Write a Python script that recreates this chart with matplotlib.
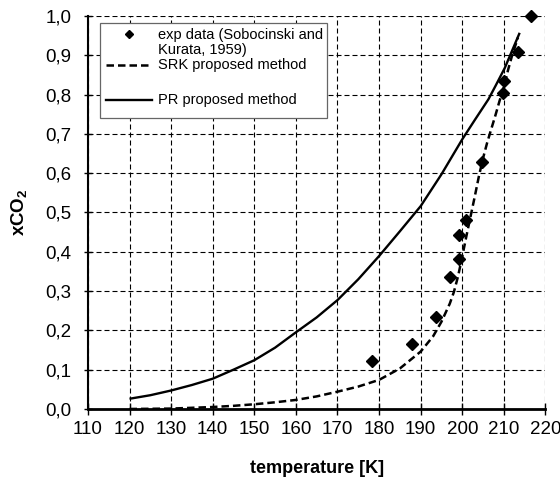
import matplotlib
matplotlib.use("Agg")
import matplotlib.pyplot as plt
from matplotlib.lines import Line2D
from matplotlib.patches import Rectangle

plt.rcParams['font.family'] = ['Liberation Sans', 'DejaVu Sans']
plt.rcParams['mathtext.fontset'] = 'custom'
plt.rcParams['mathtext.rm'] = 'Liberation Sans'
plt.rcParams['mathtext.bf'] = 'Liberation Sans:bold'

# experimental data (Sobocinski and Kurata, 1959)
T_exp = [178.2, 187.8, 193.8, 197.1, 199.2, 199.2, 200.9, 204.7, 209.8, 210.1, 213.3, 216.5]
x_exp = [0.122, 0.165, 0.235, 0.336, 0.382, 0.443, 0.480, 0.628, 0.803, 0.835, 0.909, 0.999]

# SRK proposed method
T_srk = [120, 125, 130, 135, 140, 145, 150, 155, 160, 165, 170, 175, 180, 185, 190,
         193, 195, 197, 198, 199, 200, 201, 202, 203, 204, 205, 206, 207, 208, 209,
         210, 211, 212, 213.4]
x_srk = [0.0, 0.0005, 0.001, 0.003, 0.005, 0.008, 0.012, 0.017, 0.023, 0.032, 0.044,
         0.057, 0.074, 0.103, 0.146, 0.185, 0.222, 0.268, 0.298, 0.338, 0.388, 0.440,
         0.490, 0.540, 0.592, 0.638, 0.678, 0.713, 0.748, 0.785, 0.818, 0.862, 0.900,
         0.945]

# PR proposed method
T_pr = [120, 125, 130, 135, 140, 145, 150, 155, 160, 165, 170, 175, 180, 185, 190,
        195, 200, 203, 206.3, 208, 210.2, 212, 213.8]
x_pr = [0.026, 0.035, 0.047, 0.061, 0.077, 0.100, 0.124, 0.156, 0.195, 0.233, 0.277,
        0.330, 0.389, 0.452, 0.516, 0.597, 0.686, 0.735, 0.788, 0.822, 0.867, 0.912,
        0.957]

x_ticks = [110, 120, 130, 140, 150, 160, 170, 180, 190, 200, 210, 220]
y_ticks = [0.0, 0.1, 0.2, 0.3, 0.4, 0.5, 0.6, 0.7, 0.8, 0.9, 1.0]
y_ticklabels = [f"{v:.1f}".replace('.', ',') for v in y_ticks]

fig = plt.figure(figsize=(5.6, 4.82), dpi=100)
ax = fig.add_axes([0.157, 0.1515, 0.817, 0.8155])

ax.plot(T_pr, x_pr, color='black', lw=1.7, solid_capstyle='butt')
ax.plot(T_srk, x_srk, color='black', lw=1.8, linestyle=(0, (3.0, 1.6)))
ax.plot(T_exp, x_exp, linestyle='none', marker='D', ms=6.5, color='black', zorder=5,
        clip_on=False)

ax.set_xlim(110, 220)
ax.set_ylim(0, 1.0)
ax.set_xticks(x_ticks)
ax.set_xticklabels([str(t) for t in x_ticks])
ax.set_yticks(y_ticks)
ax.set_yticklabels(y_ticklabels)
ax.tick_params(axis='x', labelsize=13.5, direction='inout', length=8, width=1,
               colors='black', pad=5)
ax.tick_params(axis='y', labelsize=13.5, direction='inout', length=6, width=1,
               colors='black', pad=9)

ax.grid(True, color='black', linestyle=(0, (4.5, 2.7)), linewidth=0.8)
ax.set_axisbelow(True)
for s in ['top', 'right']:
    ax.spines[s].set_visible(False)
ax.spines['left'].set_linewidth(1.5)
ax.spines['bottom'].set_linewidth(2.0)
ax.spines['left'].set_zorder(6)
ax.spines['bottom'].set_zorder(6)

ax.set_xlabel('temperature [K]', fontsize=13, fontweight='bold')
ax.xaxis.set_label_coords(0.5, -0.131)
ax.set_ylabel(r'$\mathbf{xCO_2}$', fontsize=13.5)
ax.yaxis.set_label_coords(-0.128, 0.5)

# legend (drawn in axes coordinates)
ax.add_patch(Rectangle((0.026, 0.740), 0.496, 0.242, transform=ax.transAxes,
                       facecolor='white', edgecolor='#666666', lw=0.9, zorder=7))
ax.add_line(Line2D([0.0905], [0.955], transform=ax.transAxes, marker='D', ms=4,
                   color='black', linestyle='none', zorder=8))
ax.add_line(Line2D([0.039, 0.141], [0.874, 0.874], transform=ax.transAxes, color='black',
                   lw=1.8, linestyle=(0, (3.0, 1.6)), zorder=8))
ax.add_line(Line2D([0.039, 0.141], [0.786, 0.786], transform=ax.transAxes, color='black',
                   lw=1.7, zorder=8))
ax.text(0.153, 0.933, 'exp data (Sobocinski and\nKurata, 1959)', transform=ax.transAxes,
        fontsize=10.5, va='center', ha='left', linespacing=1.1, zorder=9)
ax.text(0.153, 0.874, 'SRK proposed method', transform=ax.transAxes,
        fontsize=10.5, va='center', ha='left', zorder=9)
ax.text(0.153, 0.786, 'PR proposed method', transform=ax.transAxes,
        fontsize=10.5, va='center', ha='left', zorder=9)

fig.savefig('out.png', dpi=100)
